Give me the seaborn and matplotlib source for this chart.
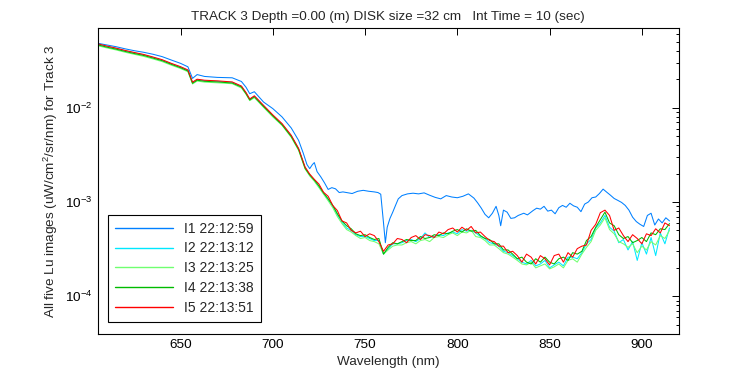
import numpy as np
import pandas as pd
import matplotlib
matplotlib.use("Agg")
import matplotlib.pyplot as plt
import seaborn as sns

# ---- data (Lu values stored in units of 1e-5 uW/cm^2/sr/nm) ----
labels = ["I1 22:12:59", "I2 22:13:12", "I3 22:13:25", "I4 22:13:38", "I5 22:13:51"]
colors = ["#0080ff", "#00e8ff", "#70ff70", "#00bb00", "#ff0000"]

# smooth part, shared wavelengths for I2..I5
wl_smooth = [605, 610, 615, 620, 625, 630, 635, 640, 645, 650, 654, 656.5, 659,
             663, 670, 678, 683, 685.5, 687.5, 690, 695, 700, 705, 710, 714, 717.5]
# noisy part, spectrometer grid
wl_noisy = np.arange(720, 915.1, 2.5)

i2_smooth = [4740, 4480, 4260, 4020, 3820, 3640, 3420, 3200, 2930, 2700, 2490, 1850, 1990,
             1940, 1910, 1860, 1680, 1430, 1230, 1320, 1050, 830, 670, 505, 365, 232]
i3_smooth = [4560, 4320, 4110, 3880, 3690, 3510, 3300, 3090, 2830, 2610, 2410, 1790, 1920,
             1870, 1840, 1800, 1620, 1390, 1190, 1280, 1010, 800, 650, 485, 352, 224]
i4_smooth = [4660, 4400, 4190, 3960, 3760, 3590, 3370, 3160, 2890, 2660, 2460, 1820, 1960,
             1910, 1880, 1830, 1660, 1410, 1210, 1310, 1030, 820, 660, 495, 360, 228]
i5_smooth = [4775, 4520, 4300, 4060, 3860, 3680, 3460, 3240, 2960, 2730, 2520, 1870, 2010,
             1960, 1930, 1880, 1700, 1450, 1240, 1340, 1060, 840, 680, 510, 370, 235]

i2_noisy = [192, 169, 146, 124, 106, 90, 73, 61, 53, 50, 45, 43, 43, 41, 39, 39, 28, 32, 36, 36,
            37, 39, 40, 38, 41, 47, 42, 43, 45, 44, 47, 48, 46, 51, 49, 50, 47, 43, 41, 37,
            36, 34, 30, 29, 27, 25, 23, 22, 24, 21, 22, 24, 20, 21.5, 23, 21, 26, 26, 25, 29,
            36, 40, 53, 60, 72, 54, 49, 37, 40, 31, 38, 24, 37, 28, 42, 27, 47, 36, 53]
i3_noisy = [189, 166, 142, 121, 103, 87, 70, 59, 51, 48, 44, 41, 42, 39, 38, 36, 28, 31, 34, 35,
            35, 37, 38, 36, 39, 40, 38, 42, 43, 42, 45, 47, 44, 48, 47, 50, 43, 42, 39, 35,
            35, 32, 29, 28, 26, 24, 22, 21.5, 23, 20, 21, 22, 19.5, 20.5, 22, 20, 24, 25, 23, 28,
            33, 38, 50, 57, 68, 51, 46, 38, 36, 33, 36, 29, 34, 31, 38, 35, 44, 41, 50]
i4_noisy = [194, 171, 148, 125, 108, 92, 75, 63, 56, 52, 46, 44, 45, 42, 40, 41, 28, 33, 37, 36,
            38, 40, 39, 39, 43, 41, 42, 45, 44, 47, 46, 49, 51, 48, 52, 49, 50, 44, 41, 40,
            36, 36, 31, 31, 28, 25, 26, 23, 22, 25, 23, 26, 23, 22, 25, 26, 24, 29, 28, 30,
            39, 43, 54, 65, 78, 60, 56, 45, 41, 43, 37, 39, 42, 38, 47, 45, 52, 51, 59]
i5_noisy = [198, 174, 155, 127, 115, 92, 81, 63, 60, 50, 47, 49, 43, 46, 44, 38, 30, 35, 36, 41,
            40, 37, 42, 44, 40, 45, 44, 42, 48, 46, 51, 53, 48, 54, 50, 55, 47, 48, 43, 39,
            38, 34, 34, 29, 30, 27, 23, 28, 26, 22, 27, 25, 21.5, 27, 28, 23, 29, 26, 32, 34,
            35, 50, 58, 77, 82, 72, 50, 53, 44, 38, 45, 41, 36, 46, 44, 52, 47, 60, 56]

# I1 (blue) has its own shape
wl_i1 = [605, 610, 615, 620, 625, 630, 635, 640, 645, 650,
         654, 656.5, 659, 663, 670, 678, 683, 685.5, 687.5, 690,
         695, 700, 705, 710, 714, 716.5, 718.5, 720, 721.5, 722.5,
         724, 726, 728, 730, 732, 734, 736, 738, 740, 743,
         746, 749, 752, 755, 757, 758.5, 760, 761, 762, 763.5,
         765, 766.5, 768, 770, 773, 776, 779, 782, 785, 788,
         791, 794, 797, 800, 803, 806, 809, 811, 813, 815,
         817, 819, 821, 822.5, 823.5, 825, 827, 829, 831, 833,
         836, 838, 841, 843, 845, 847, 849, 851, 853, 855,
         857, 859, 861, 863, 865, 867, 869, 871, 873, 875,
         877, 879, 881, 883, 885, 887, 889, 891, 893, 895,
         897, 899, 901, 903, 905, 907, 909, 911, 913, 915]
lu_i1 = [4842, 4640, 4450, 4220, 4030, 3880, 3700, 3490, 3210, 2960,
         2720, 2050, 2250, 2150, 2100, 2080, 1900, 1650, 1410, 1480,
         1150, 980, 800, 610, 450, 330, 250, 226, 250, 262,
         210, 185, 160, 136, 142, 138, 126, 128, 126, 123,
         130, 133, 130, 128, 126, 121, 60, 37, 54, 67,
         78, 92, 108, 117, 122, 124, 122, 125, 118, 112,
         108, 117, 113, 111, 115, 122, 110, 98, 86, 74,
         68, 76, 90, 72, 56, 82, 78, 67, 68, 72,
         76, 73, 81, 86, 84, 90, 80, 82, 75, 87,
         92, 88, 97, 91, 88, 79, 95, 100, 111, 113,
         123, 137, 127, 118, 109, 104, 99, 92, 82, 69,
         62, 58, 55, 72, 76, 57, 66, 60, 68, 63]

# ---- long-form table ----
frames = [pd.DataFrame({"wl": wl_i1, "lu": np.array(lu_i1) * 1e-5, "image": labels[0]})]
for lab, sm, nz in zip(labels[1:], [i2_smooth, i3_smooth, i4_smooth, i5_smooth],
                       [i2_noisy, i3_noisy, i4_noisy, i5_noisy]):
    frames.append(pd.DataFrame({"wl": np.concatenate([wl_smooth, wl_noisy]),
                                "lu": np.concatenate([sm, nz]) * 1e-5,
                                "image": lab}))
df = pd.concat(frames, ignore_index=True)

# ---- style ----
sns.set_style("white")
plt.rcParams["font.family"] = ["Liberation Sans", "DejaVu Sans"]
plt.rcParams["mathtext.default"] = "regular"
plt.rcParams["axes.unicode_minus"] = False
fs = 9.7

fig = plt.figure(figsize=(7.5, 3.75), dpi=100)
ax = fig.add_axes([0.13, 0.11, 0.775, 0.815])

sns.lineplot(data=df, x="wl", y="lu", hue="image", hue_order=labels,
             palette=colors, linewidth=0.75, estimator=None, ax=ax)

ax.set_yscale("log")
ax.set_xlim(605, 920)
ax.set_ylim(4e-5, 0.07)
ax.set_xticks([650, 700, 750, 800, 850, 900])

for s in ax.spines.values():
    s.set_color("black")
    s.set_linewidth(0.8)
ax.tick_params(which="both", direction="in", top=True, right=True,
               colors="black", labelsize=fs)
ax.tick_params(which="major", length=5, width=0.7)
ax.tick_params(which="minor", length=2.5, width=0.7)
ax.tick_params(axis="x", which="minor", bottom=False, top=False)

ax.set_title("TRACK 3 Depth =0.00 (m) DISK size =32 cm   Int Time = 10 (sec)",
             fontsize=fs, pad=6)
ax.set_xlabel("Wavelength (nm)", fontsize=fs, labelpad=4)
ax.set_ylabel("All five Lu images (uW/cm$^2$/sr/nm) for Track 3", fontsize=fs, labelpad=4)

sns.move_legend(ax, "lower left", bbox_to_anchor=(0.018, 0.039), borderaxespad=0,
                title=None, frameon=True, fancybox=False, edgecolor="black",
                framealpha=1, fontsize=10, handlelength=4.2, labelspacing=0.42,
                handletextpad=0.8, borderpad=0.5)
leg = ax.get_legend()
leg.get_frame().set_linewidth(0.8)
for h in leg.get_lines():
    h.set_linewidth(1.0)

fig.savefig("out.png", dpi=100)
